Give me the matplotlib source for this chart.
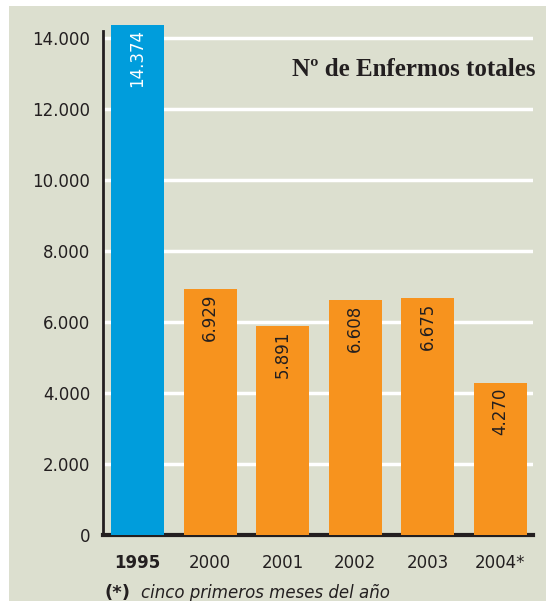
import matplotlib.pyplot as plt
from matplotlib.patches import Rectangle

# datos
anios = ["1995", "2000", "2001", "2002", "2003", "2004*"]
enfermos = [14374, 6929, 5891, 6608, 6675, 4270]
etiquetas = ["14.374", "6.929", "5.891", "6.608", "6.675", "4.270"]
marcas_y = [0, 2000, 4000, 6000, 8000, 10000, 12000, 14000]

fondo = "#dcdfcf"
azul = "#009ddc"
naranja = "#f7931e"
texto = "#231f20"

W, H = 546, 601
fig = plt.figure(figsize=(W / 100, H / 100), dpi=100)
fig.patch.set_facecolor("white")
fig.patches.append(Rectangle((9 / W, 0), 1 - 9 / W, 1 - 6 / H, transform=fig.transFigure,
                             facecolor=fondo, edgecolor="none", zorder=-10))

# ejes: y=0 en 535 px, 14000 en 38 px
y0, y14 = 535, 38
esc = (y0 - y14) / 14000
ytop = 14600
ax = fig.add_axes([103 / W, (H - y0) / H, (533 - 103) / W, ytop * esc / H])
ax.set_facecolor("none")

colores = [azul] + [naranja] * 5
x = list(range(len(anios)))
ax.bar(x, enfermos, width=0.73, color=colores, zorder=3)
ax.set_xlim(-0.475, 5.45)
ax.set_ylim(0, ytop)

for i, v in enumerate(enfermos):
    ax.text(i, v - 120, etiquetas[i], rotation=90, ha="center", va="top",
            fontsize=12, color="white" if i == 0 else texto, zorder=4)

ax.set_yticks(marcas_y)
ax.set_yticklabels(["0"] + [f"{v:,}".replace(",", ".") for v in marcas_y[1:]], fontsize=12, color=texto)
ax.set_xticks(x)
ax.set_xticklabels(anios, fontsize=12, color=texto)
ax.get_xticklabels()[0].set_fontweight("bold")
ax.tick_params(axis="y", length=0, pad=9)
ax.tick_params(axis="x", length=0, pad=14)

for v in marcas_y[1:]:
    ax.axhline(v, color="white", lw=2.5, zorder=1)

for s in ["top", "right"]:
    ax.spines[s].set_visible(False)
ax.spines["left"].set_color(texto)
ax.spines["left"].set_linewidth(2)
ax.spines["left"].set_bounds(0, 14200)
ax.spines["bottom"].set_color(texto)
ax.spines["bottom"].set_linewidth(3)

fig.text(535 / W, 1 - 70 / H, "Nº de Enfermos totales", ha="right", va="center",
         fontsize=18, fontweight="bold", family="Liberation Serif", color=texto)
fig.text(104 / W, 1 - 593 / H, "(*)", ha="left", va="center", fontsize=13,
         fontweight="bold", color=texto)
fig.text(141 / W, 1 - 593 / H, "cinco primeros meses del año", ha="left", va="center",
         fontsize=12, style="italic", color=texto)

fig.savefig("out.png", dpi=100, facecolor=fig.get_facecolor())
